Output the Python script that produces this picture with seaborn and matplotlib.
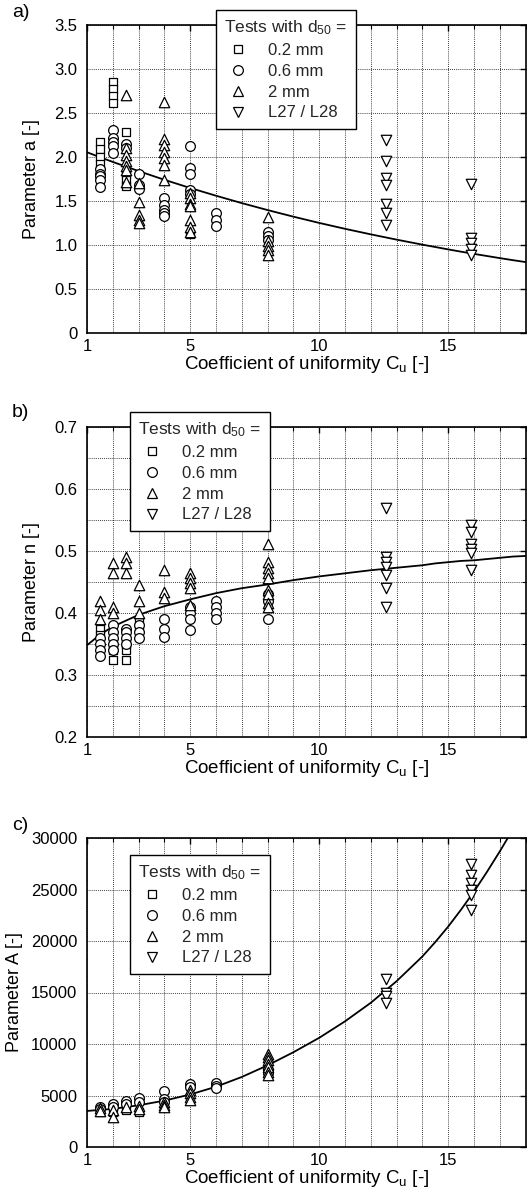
import matplotlib
matplotlib.use("Agg")
import matplotlib.pyplot as plt
from matplotlib.lines import Line2D
from matplotlib.ticker import MultipleLocator, FixedLocator, FuncFormatter
import pandas as pd
import seaborn as sns

# ---------------- data: parameter a ----------------
a_sq_cu = [1.5, 1.5, 1.5, 1.5, 2, 2, 2, 2, 2.5, 2.5, 2.5, 2.5, 5]
a_sq = [2.17, 2.09, 2.00, 1.92, 2.85, 2.77, 2.69, 2.61, 2.28, 1.81, 1.74, 1.67, 1.13]
a_ci_cu = [1.5, 1.5, 1.5, 1.5, 1.5, 2, 2, 2, 2, 2, 2.5, 2.5, 3, 3, 3,
           4, 4, 4, 4, 4, 5, 5, 5, 5, 5, 6, 6, 6, 8, 8, 8]
a_ci = [1.86, 1.81, 1.78, 1.74, 1.66, 2.31, 2.22, 2.17, 2.13, 2.05, 2.15, 2.10, 1.81, 1.68, 1.64,
        1.53, 1.45, 1.40, 1.36, 1.33, 2.12, 1.87, 1.81, 1.63, 1.58, 1.36, 1.28, 1.22, 1.15, 1.10, 1.06]
a_tu_cu = [2.5, 2.5, 2.5, 2.5, 2.5, 2.5, 2.5, 3, 3, 3, 3, 3,
           4, 4, 4, 4, 4, 4, 4, 5, 5, 5, 5, 5, 5, 5, 8, 8, 8, 8, 8]
a_tu = [2.71, 2.10, 2.02, 1.95, 1.90, 1.85, 1.72, 1.70, 1.49, 1.34, 1.28, 1.25,
        2.62, 2.21, 2.14, 2.06, 1.99, 1.91, 1.74, 1.59, 1.53, 1.47, 1.44, 1.28, 1.21, 1.15,
        1.32, 1.04, 0.99, 0.94, 0.89]
a_td_cu = [12.6, 12.6, 12.6, 12.6, 12.6, 12.6, 12.6, 15.9, 15.9, 15.9, 15.9, 15.9]
a_td = [2.19, 1.96, 1.76, 1.68, 1.47, 1.36, 1.23, 1.69, 1.08, 1.02, 0.96, 0.89]

# ---------------- data: parameter n ----------------
n_sq_cu = [1.5, 1.5, 2, 2, 2.5, 2.5, 2.5, 3, 3]
n_sq = [0.375, 0.365, 0.34, 0.325, 0.35, 0.34, 0.325, 0.385, 0.375]
n_ci_cu = [1.5, 1.5, 1.5, 1.5, 2, 2, 2, 2, 2, 2.5, 2.5, 2.5, 2.5, 3, 3, 3,
           4, 4, 4, 5, 5, 5, 5, 6, 6, 6, 6, 8, 8, 8]
n_ci = [0.36, 0.35, 0.34, 0.33, 0.38, 0.37, 0.36, 0.35, 0.34, 0.375, 0.37, 0.36, 0.35,
        0.38, 0.37, 0.36, 0.39, 0.374, 0.362, 0.41, 0.40, 0.39, 0.373,
        0.42, 0.41, 0.40, 0.39, 0.43, 0.42, 0.39]
n_tu_cu = [1.5, 1.5, 1.5, 2, 2, 2, 2, 2.5, 2.5, 2.5, 3, 3, 3, 4, 4, 4,
           5, 5, 5, 5, 5, 8, 8, 8, 8, 8, 8, 8, 8, 8]
n_tu = [0.42, 0.405, 0.39, 0.48, 0.465, 0.41, 0.40, 0.49, 0.48, 0.465, 0.445, 0.42, 0.40,
        0.47, 0.434, 0.424, 0.464, 0.456, 0.448, 0.44, 0.413,
        0.512, 0.483, 0.472, 0.464, 0.456, 0.437, 0.43, 0.416, 0.41]
n_td_cu = [12.6, 12.6, 12.6, 12.6, 12.6, 12.6, 12.6, 15.9, 15.9, 15.9, 15.9, 15.9, 15.9]
n_td = [0.570, 0.491, 0.483, 0.475, 0.461, 0.44, 0.41, 0.542, 0.531, 0.512, 0.504, 0.497, 0.469]

# ---------------- data: parameter A ----------------
A_sq_cu = [1.5, 1.5, 2, 2.5, 3]
A_sq = [3400, 3600, 3400, 3600, 3400]
A_ci_cu = [1.5, 1.5, 2, 2, 2.5, 2.5, 3, 3, 4, 4, 4, 5, 5, 6, 6, 6, 8, 8]
A_ci = [3900, 3700, 4200, 3900, 4500, 4200, 4750, 4400, 5400, 4700, 4400,
        6150, 5800, 6200, 5900, 5700, 7500, 7200]
A_tu_cu = [1.5, 1.5, 2, 2, 2.5, 3, 3, 4, 4, 4, 5, 5, 5, 5, 8, 8, 8, 8, 8, 8, 8]
A_tu = [3800, 3500, 3600, 2950, 3900, 3950, 3700, 4400, 4100, 3900,
        5500, 5200, 4850, 4550, 9000, 8700, 8400, 8100, 7750, 7300, 7000]
A_td_cu = [12.6, 12.6, 12.6, 12.6, 15.9, 15.9, 15.9, 15.9, 15.9, 15.9]
A_td = [16300, 15000, 14700, 14000, 27500, 26400, 25600, 25000, 24500, 23000]

# ---------------- regression curves ----------------
fit_cu = [1, 1.5, 2, 3, 4, 5, 6, 7, 8, 9, 10, 11, 12, 13, 14, 14.5, 15, 15.5,
          16, 16.5, 17, 17.5, 18]
fit_a = [2.054, 1.998, 1.944, 1.840, 1.741, 1.648, 1.560, 1.476, 1.397, 1.322,
         1.251, 1.184, 1.121, 1.061, 1.004, 0.977, 0.950, 0.924, 0.899, 0.875,
         0.851, 0.828, 0.806]
fit_n = [0.348, 0.365, 0.378, 0.397, 0.411, 0.422, 0.432, 0.440, 0.446, 0.453,
         0.459, 0.464, 0.469, 0.473, 0.477, 0.480, 0.482, 0.484, 0.485, 0.487,
         0.489, 0.491, 0.492]
fit_A = [3500, 3600, 3700, 4050, 4500, 5100, 5850, 6800, 7930, 9200,
         10600, 12200, 14000, 16100, 18500, 19900, 21400, 23050, 24800, 26700,
         28700, 30800, 33000]

group_labels = ["0.2 mm", "0.6 mm", "2 mm", "L27 / L28"]
group_markers = ["s", "o", "^", "v"]
group_sizes = [5.5, 7.0, 7.5, 7.5]

sns.set_theme(style="white")
plt.rcParams["font.family"] = ["Liberation Sans", "DejaVu Sans"]
plt.rcParams["mathtext.fontset"] = "custom"
plt.rcParams["mathtext.rm"] = "Liberation Sans"
plt.rcParams["mathtext.it"] = "Liberation Sans:italic"

fig = plt.figure(figsize=(5.27, 12.04), dpi=100)

L = 87 / 527
W = 438.6 / 527
panels = [
    dict(tag="a)", ylabel="Parameter a [-]",
         groups=[(a_sq_cu, a_sq), (a_ci_cu, a_ci), (a_tu_cu, a_tu), (a_td_cu, a_td)],
         fit=fit_a, ylim=(0, 3.5), ymaj=0.5, ymin=0.5,
         fmt=lambda v, p: "0" if abs(v) < 1e-9 else f"{v:.1f}",
         top=25, bot=333, leg=(216, 10), tagy=4, ylab_x=40),
    dict(tag="b)", ylabel="Parameter n [-]",
         groups=[(n_sq_cu, n_sq), (n_ci_cu, n_ci), (n_tu_cu, n_tu), (n_td_cu, n_td)],
         fit=fit_n, ylim=(0.2, 0.7), ymaj=0.1, ymin=0.05,
         fmt=lambda v, p: f"{v:.1f}",
         top=427, bot=737, leg=(130, 412), tagy=404, ylab_x=40),
    dict(tag="c)", ylabel="Parameter A [-]",
         groups=[(A_sq_cu, A_sq), (A_ci_cu, A_ci), (A_tu_cu, A_tu), (A_td_cu, A_td)],
         fit=fit_A, ylim=(0, 30000), ymaj=5000, ymin=5000,
         fmt=lambda v, p: f"{int(round(v))}",
         top=838, bot=1147, leg=(130, 855), tagy=817, ylab_x=23),
]

for P in panels:
    h = P["bot"] - P["top"]
    ax = fig.add_axes([L, 1 - P["bot"] / 1204, W, h / 1204])
    ax.set_facecolor("white")

    sns.lineplot(x=fit_cu, y=P["fit"], ax=ax, color="black", linewidth=1.3, zorder=3)

    for (cu, vals), mk, ms in zip(P["groups"], group_markers, group_sizes):
        df = pd.DataFrame({"Cu": cu, "val": vals})
        sns.scatterplot(data=df, x="Cu", y="val", ax=ax, marker=mk, s=ms ** 2,
                        color="white", edgecolor="black", linewidth=0.9, zorder=4)

    ax.set_xlim(1, 18)
    ax.set_ylim(*P["ylim"])
    ax.xaxis.set_major_locator(FixedLocator([1, 5, 10, 15]))
    ax.xaxis.set_minor_locator(MultipleLocator(1))
    ax.yaxis.set_major_locator(MultipleLocator(P["ymaj"]))
    ax.yaxis.set_minor_locator(MultipleLocator(P["ymin"]))
    ax.yaxis.set_major_formatter(FuncFormatter(P["fmt"]))

    ax.grid(True, which="both", color="black", linestyle=(0, (1, 1.5)), linewidth=0.6)
    ax.set_axisbelow(True)
    ax.tick_params(which="both", direction="in", top=True, right=True,
                   colors="black", labelsize=12)
    ax.tick_params(which="major", length=4, width=1.0, pad=4)
    ax.tick_params(which="minor", length=3, width=0.8)
    ax.tick_params(axis="y", which="major", pad=7)
    for sp in ax.spines.values():
        sp.set_color("black")
        sp.set_linewidth(1.2)

    ax.set_xlabel(r"Coefficient of uniformity C$_\mathregular{u}$ [-]", fontsize=13.5, color="black")
    ax.xaxis.set_label_coords(0.5, -21 / h)
    ax.set_ylabel(P["ylabel"], fontsize=13, color="black")
    ax.yaxis.set_label_coords((P["ylab_x"] - 87) / 438.6, 0.5)

    handles = [Line2D([], [], linestyle="none", marker=mk, markersize=ms,
                      markerfacecolor="white", markeredgecolor="black", markeredgewidth=0.9)
               for mk, ms in zip(group_markers, group_sizes)]
    lx, ly = P["leg"]
    leg = ax.legend(handles, group_labels, title=r"Tests with d$_\mathregular{50}$ =",
                    loc="upper left", bbox_to_anchor=(lx / 527, 1 - ly / 1204),
                    bbox_transform=fig.transFigure, borderaxespad=0, fontsize=12,
                    title_fontsize=12.5, frameon=True, fancybox=False, framealpha=1,
                    edgecolor="black", alignment="left", handletextpad=1.0,
                    labelspacing=0.35, borderpad=0.5, handlelength=1.6)
    leg.get_frame().set_linewidth(1.0)
    leg.set_zorder(10)

    fig.text(12 / 527, 1 - P["tagy"] / 1204, P["tag"], fontsize=14, va="top", ha="left",
             color="black")

fig.savefig("out.png", dpi=100, facecolor="white")
